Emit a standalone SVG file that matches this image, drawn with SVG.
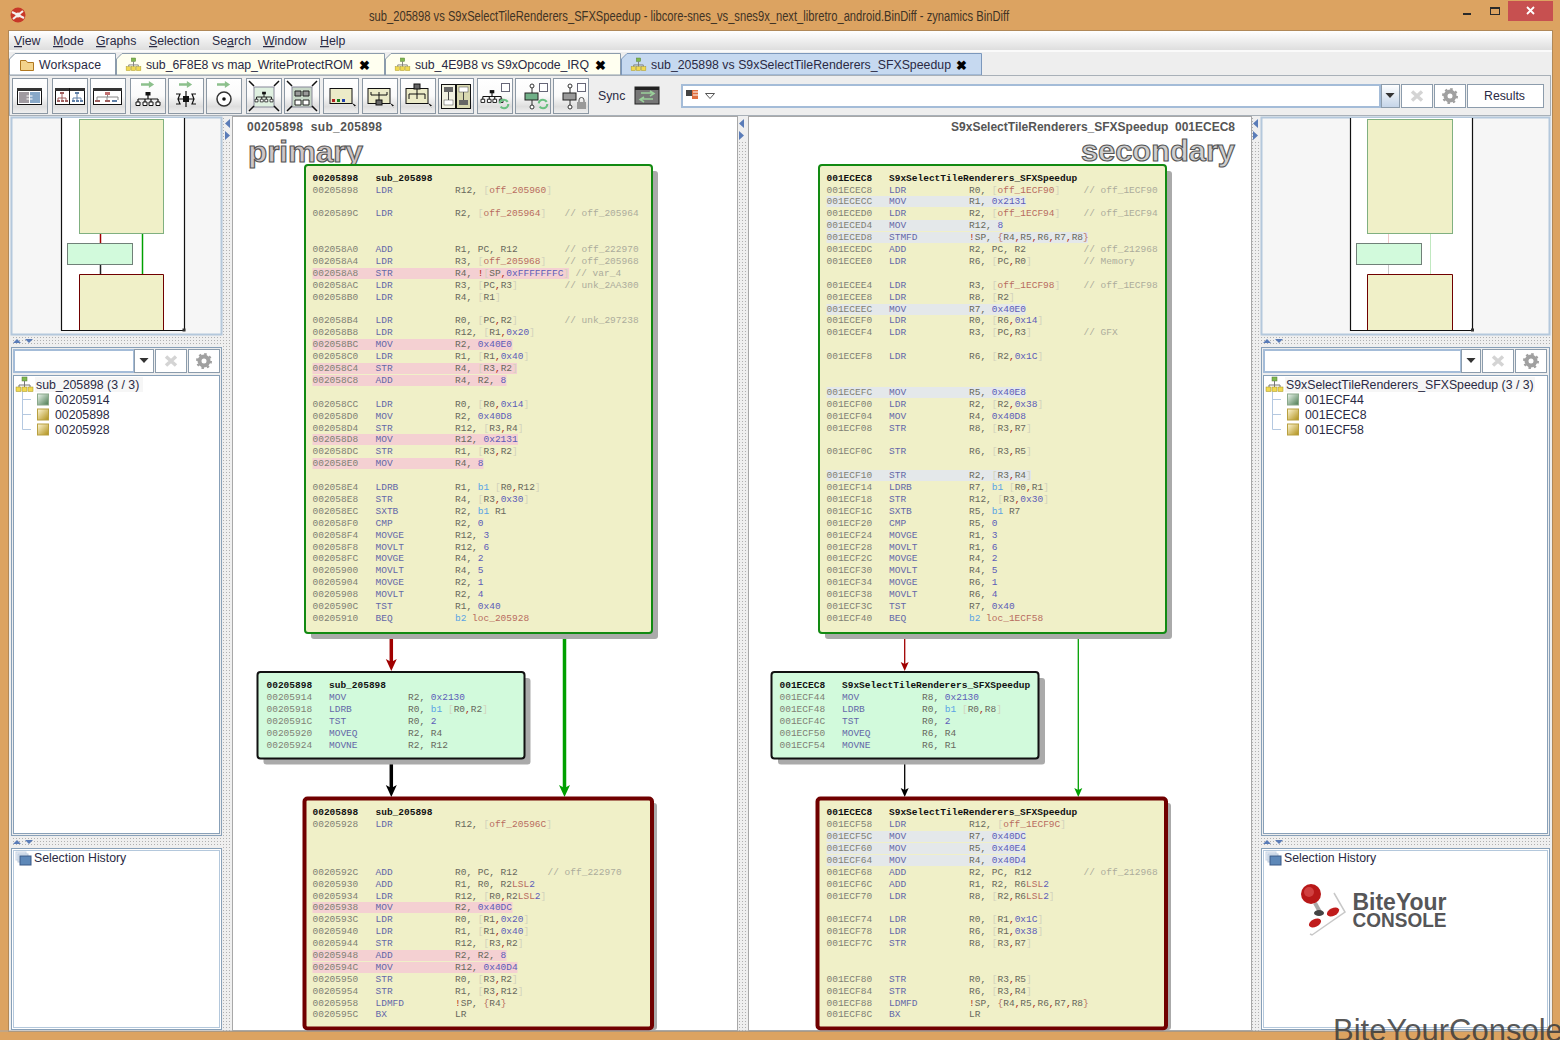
<svg xmlns="http://www.w3.org/2000/svg" width="1560" height="1040" viewBox="0 0 1560 1040">
<style>
text{font-family:"Liberation Sans",Arial,sans-serif;white-space:pre}
.t{font-family:"Liberation Mono","Courier New",monospace;font-size:9.5px;fill:#68685c}
.h{font-weight:bold;fill:#111}
.a{fill:#808074}.m{fill:#6468a8}.b{fill:#d2d2bc}.o{fill:#b86c60}.n{fill:#5c5cb8}.c{fill:#acac9c}.p{fill:#b02818}.s{fill:#5aa4e4}
.ui{font-size:12.3px;fill:#2a2a44}
.hlp{fill:#f4d0d2}.hls{fill:#e4e8ea}
.yb{fill:#f0f0c8;stroke:#128a12;stroke-width:2}
.gb{fill:#d2fadc;stroke:#111;stroke-width:2}
.rb{fill:#f0f0c8;stroke:#700000;stroke-width:4}
.sh{fill:#aaa}
.btn{fill:url(#bg);stroke:#8c98a4;stroke-width:1}
.box{fill:#fff;stroke:#8c9cac;stroke-width:1}
.boxb{fill:#fff;stroke:#a4bcd8;stroke-width:2}
.pan{fill:#fff;stroke:#88a0b8;stroke-width:1}
.k{fill:none;stroke:#111;stroke-width:1.2}
.tri{fill:#5a7cb8}
</style>
<defs>
<linearGradient id="bg" x1="0" y1="0" x2="0" y2="1"><stop offset="0" stop-color="#fff"/><stop offset=".5" stop-color="#fafafa"/><stop offset=".8" stop-color="#dedede"/><stop offset="1" stop-color="#f0f0f0"/></linearGradient>
<linearGradient id="mg" x1="0" y1="0" x2="0" y2="1"><stop offset="0" stop-color="#fff"/><stop offset="1" stop-color="#dedede"/></linearGradient>
<linearGradient id="dd" x1="0" y1="0" x2="0" y2="1"><stop offset="0" stop-color="#fff"/><stop offset="1" stop-color="#c4d4e8"/></linearGradient>
<linearGradient id="yi" x1="0" y1="0" x2="1" y2="1"><stop offset="0" stop-color="#fff8d8"/><stop offset="1" stop-color="#b09018"/></linearGradient>
<linearGradient id="gi" x1="0" y1="0" x2="1" y2="1"><stop offset="0" stop-color="#eef8f0"/><stop offset="1" stop-color="#4a7a50"/></linearGradient>
<pattern id="dots" width="3" height="3" patternUnits="userSpaceOnUse"><rect width="3" height="3" fill="#efefef"/><rect x="1" y="1" width="1" height="1" fill="#b0b0b0"/></pattern>
<marker id="hr" markerUnits="userSpaceOnUse" markerWidth="12" markerHeight="13" refX="6" refY="12.500" orient="0" overflow="visible"><path d="M0.500 0.500L6 3.500L11.500 0.500L6 12.500Z" fill="#a00000"/></marker>
<marker id="hk" markerUnits="userSpaceOnUse" markerWidth="12" markerHeight="13" refX="6" refY="12.500" orient="0" overflow="visible"><path d="M0.500 0.500L6 3.500L11.500 0.500L6 12.500Z" fill="#000"/></marker>
<marker id="hg" markerUnits="userSpaceOnUse" markerWidth="12" markerHeight="13" refX="6" refY="12.500" orient="0" overflow="visible"><path d="M0.500 0.500L6 3.500L11.500 0.500L6 12.500Z" fill="#00a000"/></marker>
<marker id="sr" markerUnits="userSpaceOnUse" markerWidth="9" markerHeight="10" refX="4.500" refY="9.500" orient="0" overflow="visible"><path d="M0.500 0.500L4.500 2.500L8.500 0.500L4.500 9.500Z" fill="#a00000"/></marker>
<marker id="sk" markerUnits="userSpaceOnUse" markerWidth="9" markerHeight="10" refX="4.500" refY="9.500" orient="0" overflow="visible"><path d="M0.500 0.500L4.500 2.500L8.500 0.500L4.500 9.500Z" fill="#000"/></marker>
<marker id="sg" markerUnits="userSpaceOnUse" markerWidth="9" markerHeight="10" refX="4.500" refY="9.500" orient="0" overflow="visible"><path d="M0.500 0.500L4.500 2.500L8.500 0.500L4.500 9.500Z" fill="#00a000"/></marker>
<symbol id="org" viewBox="0 0 24 14" overflow="visible"><path d="M12 3V7M2 7H22M2 7V10M9 7V10M15 7V10M22 7V10" fill="none" stroke="#111" stroke-width="1.2"/><rect x="9.5" y="0" width="5" height="3.5" fill="#111"/><path d="M0 10h4v3.5h-4zM7 10h4v3.5h-4zM13 10h4v3.5h-4zM20 10h4v3.5h-4z" fill="#fff" stroke="#111"/></symbol>
<symbol id="arrow" viewBox="0 0 16 8" overflow="visible"><path d="M0 2.5H9V0L15 4L9 8V5.5H0Z" fill="#8cc08c"/></symbol>
<symbol id="treeicon" viewBox="0 0 17 15" overflow="visible"><rect x="6" y="0" width="5" height="4" fill="#80b850" stroke="#507830" stroke-width=".5"/><path d="M8.500 4V8M3 8H14M3 8V10M8.500 8V10M14 8V10" fill="none" stroke="#777"/><rect x="0" y="10" width="5" height="4.500" fill="#f0d850" stroke="#a09020" stroke-width=".5"/><rect x="6" y="10" width="5" height="4.500" fill="#f0d850" stroke="#a09020" stroke-width=".5"/><rect x="12" y="10" width="5" height="4.500" fill="#f0d850" stroke="#a09020" stroke-width=".5"/></symbol>
<symbol id="xbtn" viewBox="0 0 30 22" overflow="visible"><path d="M10 6.500L20 15.500M20 6.500L10 15.500" stroke="#d4d4d4" stroke-width="3.500"/></symbol>
<symbol id="gear" viewBox="0 0 30 22" overflow="visible"><circle cx="15" cy="11" r="4.500" fill="none" stroke="#a0a0a0" stroke-width="4"/><circle cx="15" cy="11" r="7" fill="none" stroke="#a0a0a0" stroke-width="2" stroke-dasharray="2.500 3"/></symbol>
<symbol id="cursor" viewBox="0 0 6 6" overflow="visible"><path d="M0 0L5 3L3 3.500L4.500 6L0 0Z" fill="#000"/></symbol>
<symbol id="cycle" viewBox="0 0 14 14" overflow="visible"><circle cx="7" cy="7" r="5" fill="none" stroke="#68c080" stroke-width="2.500" stroke-dasharray="12 4"/></symbol>
<symbol id="chk" viewBox="0 0 9 9" overflow="visible"><rect x=".5" y=".5" width="8" height="8" fill="#fff" stroke="#667"/></symbol>
<symbol id="hist" viewBox="0 0 15 13" overflow="visible"><rect x="0" y="0" width="10" height="8" fill="#e8eef6" stroke="#c8d4e4"/><rect x="2" y="2" width="10" height="8" fill="#dde6f0" stroke="#b8c8dc"/><rect x="4" y="4" width="11" height="9" fill="#5e88b8" stroke="#3a5a88"/></symbol>
<symbol id="ddarrow" viewBox="0 0 10 6" overflow="visible"><path d="M0 0H10L5 5.500Z" fill="#333"/></symbol>
</defs>

<g id="window-frame">
<rect width="1560" height="1040" fill="#dca361"/>
<rect x="8.500" y="30.500" width="1544" height="1001" fill="#eeeeee" stroke="#b08858"/>
<text x="369" y="21" font-size="13.800" fill="#3f3325" textLength="640" lengthAdjust="spacingAndGlyphs">sub_205898 vs S9xSelectTileRenderers_SFXSpeedup - libcore-snes_vs_snes9x_next_libretro_android.BinDiff - zynamics BinDiff</text>
<circle cx="18" cy="15" r="7.500" fill="#c83828"/><path d="M12 12L24 18M13 19L23 11" stroke="#f4f0ec" stroke-width="2.200"/><circle cx="18" cy="15" r="2.500" fill="#f4f0ec"/>
<rect x="1463" y="13" width="8" height="2" fill="#2a2a2a"/>
<rect x="1490.500" y="7.500" width="9" height="7" fill="none" stroke="#2a2a2a"/><rect x="1490" y="7" width="10" height="2" fill="#2a2a2a"/>
<rect x="1508" y="1" width="45" height="20" fill="#c75050"/><path d="M1527 7L1534 14M1534 7L1527 14" stroke="#fff" stroke-width="1.800"/>
</g>

<g id="menu-bar">
<rect x="9" y="31" width="1543" height="19" fill="url(#mg)"/>
<rect x="9" y="50" width="1543" height="2" fill="#fafafa"/>
<text class="ui" y="45"><tspan x="14"><tspan text-decoration="underline">V</tspan>iew</tspan><tspan x="53"><tspan text-decoration="underline">M</tspan>ode</tspan><tspan x="96"><tspan text-decoration="underline">G</tspan>raphs</tspan><tspan x="149"><tspan text-decoration="underline">S</tspan>election</tspan><tspan x="212">Se<tspan text-decoration="underline">a</tspan>rch</tspan><tspan x="263"><tspan text-decoration="underline">W</tspan>indow</tspan><tspan x="320"><tspan text-decoration="underline">H</tspan>elp</tspan></text>
</g>

<g id="tab-bar">
<path d="M9.500 75V59L15 53.500H115.500V75Z" fill="#fff" stroke="#8c9cac"/>
<path d="M116.500 75V59L122 53.500H384.500V75Z" fill="#fffff0" stroke="#8c9cac"/>
<path d="M385.500 75V59L391 53.500H620.500V75Z" fill="#fffff0" stroke="#8c9cac"/>
<path d="M621.500 75V59L627 53.500H981.500V75H621.500Z" fill="#c6d9f0" stroke="#7c98bc"/>
<path d="M20.500 60.500H26L27.500 62.500H33.500V70.500H20.500Z" fill="#f4d48c" stroke="#b07820"/>
<use href="#treeicon" x="126" y="58" width="15" height="13"/>
<use href="#treeicon" x="395" y="58" width="15" height="13"/>
<use href="#treeicon" x="631" y="58" width="15" height="13"/>
<text class="ui" x="39" y="69" textLength="62">Workspace</text>
<text class="ui" x="146" y="69" textLength="207">sub_6F8E8 vs map_WriteProtectROM</text>
<text class="ui" x="415" y="69" textLength="174">sub_4E9B8 vs S9xOpcode_IRQ</text>
<text class="ui" x="651" y="69" textLength="300">sub_205898 vs S9xSelectTileRenderers_SFXSpeedup</text>
<text x="359" y="70" font-size="13" font-weight="bold" fill="#000">✖</text>
<text x="595" y="70" font-size="13" font-weight="bold" fill="#000">✖</text>
<text x="956" y="70" font-size="13" font-weight="bold" fill="#000">✖</text>
</g>

<g id="toolbar">
<rect x="9" y="76" width="1543" height="40" fill="#eeeeee"/>
<rect x="9.500" y="75.500" width="1541" height="40" fill="none" stroke="#a8b0b8"/>
<rect class="btn" x="12.500" y="78.500" width="35" height="35"/><rect class="btn" x="52.500" y="78.500" width="35" height="35"/><rect class="btn" x="90.500" y="78.500" width="35" height="35"/><rect class="btn" x="130.500" y="78.500" width="35" height="35"/><rect class="btn" x="168.500" y="78.500" width="35" height="35"/><rect class="btn" x="206.500" y="78.500" width="35" height="35"/><rect class="btn" x="246.500" y="78.500" width="35" height="35"/><rect class="btn" x="284.500" y="78.500" width="35" height="35"/><rect class="btn" x="323.500" y="78.500" width="35" height="35"/><rect class="btn" x="362.500" y="78.500" width="35" height="35"/><rect class="btn" x="400.500" y="78.500" width="35" height="35"/><rect class="btn" x="438.500" y="78.500" width="35" height="35"/><rect class="btn" x="477.500" y="78.500" width="35" height="35"/><rect class="btn" x="515.500" y="78.500" width="35" height="35"/><rect class="btn" x="553.500" y="78.500" width="35" height="35"/>
<rect x="17.500" y="88.500" width="24" height="16" fill="#fff" stroke="#111"/><rect x="17" y="88" width="25" height="3" fill="#333"/><rect x="19" y="92" width="10" height="11" fill="#a09aa0"/><rect x="30" y="92" width="10" height="11" fill="#88a8c8"/><path d="M26.500 96H32.500M26.500 99H32.500" stroke="#fff"/>
<rect x="55.500" y="88.500" width="29" height="16" fill="#fff" stroke="#111"/><rect x="55" y="88" width="30" height="3" fill="#333"/><path d="M69.500 88V104" stroke="#111"/>
<path d="M62 93V98M58 98H66M58 98V100M62 98V100M66 98V100" fill="none" stroke="#a06060"/><path d="M77 93V98M73 98H81M73 98V100M77 98V100M81 98V100" fill="none" stroke="#6080a8"/>
<rect x="60" y="92" width="4" height="2" fill="#a06060"/><rect x="75" y="92" width="4" height="2" fill="#6080a8"/><path d="M57 100h3v2h-3zM61 100h3v2h-3zM65 100h3v2h-3z" fill="#a06060"/><path d="M72 100h3v2h-3zM76 100h3v2h-3zM80 100h3v2h-3z" fill="#6080a8"/>
<rect x="93.500" y="88.500" width="28" height="16" fill="#fff" stroke="#111"/><rect x="93" y="88" width="29" height="3" fill="#333"/><path d="M107.500 93V97M97 97H118M97 97V100M107 97V100M118 97V100" fill="none" stroke="#888"/><rect x="105" y="92" width="5" height="3" fill="#c07070"/><path d="M95 100h5v2h-5zM105 100h5v2h-5z" fill="#a06060"/><path d="M112 100h5v2h-5z" fill="#6080a8"/>
<use href="#arrow" x="141" y="81" width="14" height="7"/><use href="#org" x="136" y="92" width="24" height="14"/>
<use href="#arrow" x="179" y="81" width="14" height="7"/><path d="M186 91V107M178 99H194M176 94H180L178 99L180 104H176M196 94H192L194 99L192 104H196" fill="none" stroke="#111" stroke-width="1.200"/><rect x="183" y="96" width="6" height="6" fill="#111"/>
<use href="#arrow" x="217" y="81" width="14" height="7"/><circle cx="224" cy="99" r="7" fill="#fff" stroke="#333" stroke-width="1.500"/><circle cx="224" cy="99" r="1.800" fill="#111"/>
<rect x="254" y="87" width="20" height="20" fill="#dff0e0" stroke="#889"/><use href="#org" x="255" y="91" width="18" height="12"/><path d="M249 81L254 86M279 81L274 86M249 111L254 106M279 111L274 106" stroke="#111" stroke-width="1.500"/>
<rect x="292" y="87" width="20" height="20" fill="#c8d8c8" stroke="#889"/><path d="M295 91h6v5h-6zM303 91h6v5h-6z" fill="#999" stroke="#222"/><path d="M295 100h6v5h-6zM303 100h6v5h-6z" fill="#fff" stroke="#222"/><path d="M287 81L292 86M317 81L312 86M287 111L292 106M317 111L312 106" stroke="#111" stroke-width="1.500"/>
<rect x="330" y="88.500" width="22" height="15" fill="#ecebc8" stroke="#111"/><rect x="332" y="99" width="3" height="3" fill="#b02020"/><rect x="337" y="99" width="3" height="3" fill="#208020"/><rect x="342" y="99" width="3" height="3" fill="#2040b0"/><use href="#cursor" x="352" y="103" width="5" height="5"/>
<rect x="368" y="88.500" width="22" height="15" fill="#ecebc8" stroke="#111"/><path d="M371 92V95M379 92V95M387 92V95M371 95H387M379 95V100" fill="none" stroke="#111"/><rect x="376" y="100" width="6" height="5" fill="#666" stroke="#111"/><use href="#cursor" x="390" y="103" width="5" height="5"/>
<rect x="406" y="88.500" width="22" height="15" fill="#ecebc8" stroke="#111"/><rect x="414" y="84" width="6" height="5" fill="#666" stroke="#111"/><path d="M417 89V94M409 94H425M409 94V99M417 94V99M425 94V99" fill="none" stroke="#111"/><use href="#cursor" x="428" y="103" width="5" height="5"/>
<rect x="441.500" y="84.500" width="14" height="24" fill="#f0f0e0" stroke="#111"/><rect x="456.500" y="84.500" width="14" height="24" fill="#d8d8b0" stroke="#111"/><rect x="444" y="87" width="9" height="5" fill="#666"/><rect x="459" y="87" width="9" height="5" fill="#fff" stroke="#444" stroke-width=".5"/><rect x="444" y="100" width="9" height="5" fill="#fff" stroke="#444" stroke-width=".5"/><rect x="459" y="100" width="9" height="5" fill="#666"/><path d="M448.500 92V100M463.500 92V100" stroke="#444"/>
<use href="#org" x="481" y="90" width="22" height="13"/><use href="#chk" x="501" y="83" width="9" height="9"/><use href="#cycle" x="498" y="98" width="12" height="12"/>
<path d="M532 85V108" stroke="#333"/><circle cx="532" cy="86" r="2" fill="#fff" stroke="#333"/><circle cx="532" cy="107" r="2" fill="#fff" stroke="#333"/><rect x="525" y="93" width="13" height="7" fill="#70b088" stroke="#222"/><use href="#chk" x="539" y="83" width="9" height="9"/><use href="#cycle" x="537" y="98" width="12" height="12"/>
<path d="M570 85V108" stroke="#333"/><circle cx="570" cy="86" r="2" fill="#fff" stroke="#333"/><circle cx="570" cy="107" r="2" fill="#fff" stroke="#333"/><rect x="563" y="93" width="13" height="7" fill="#999" stroke="#222"/><use href="#chk" x="577" y="83" width="9" height="9"/><rect x="577" y="102" width="9" height="7" fill="#999"/><path d="M579 102V100A2.500 2.500 0 0 1 584 100V102" fill="none" stroke="#555"/>
<text x="598" y="100" class="ui">Sync</text>
<rect x="635" y="87" width="24" height="17" fill="#777" stroke="#222"/><rect x="635" y="87" width="24" height="3" fill="#222"/><path d="M641 93H653M650 91L654 93.500L650 96M653 99H641M644 97L640 99.500L644 102" stroke="#9ad09a" fill="none" stroke-width="1.500"/>
<rect class="boxb" x="682" y="85" width="698" height="22"/>
<rect x="686" y="90" width="6" height="6" fill="#444"/><rect x="692" y="90" width="6" height="9" fill="#e07040"/><path d="M693 92H698M693 95H698" stroke="#fff"/>
<path d="M705.500 93.500H714.500L710 98.500Z" fill="#fff" stroke="#555"/>
<rect x="1381.500" y="84.500" width="18" height="23" fill="url(#dd)" stroke="#8c9cac"/><use href="#ddarrow" x="1385" y="93" width="10" height="5.500"/>
<rect class="box" x="1401.500" y="84.500" width="31" height="23"/><use href="#xbtn" x="1402" y="85" width="30" height="22"/>
<rect class="box" x="1434.500" y="84.500" width="31" height="23"/><use href="#gear" x="1435" y="85" width="30" height="22"/>
<rect class="box" x="1467.500" y="84.500" width="76" height="23"/>
<text class="ui" x="1484" y="100">Results</text>
</g>

<g id="splitters">
<rect x="222" y="116" width="10" height="915" fill="url(#dots)"/>
<rect x="738" y="116" width="10" height="915" fill="url(#dots)"/>
<rect x="1252" y="116" width="9" height="915" fill="url(#dots)"/>
<rect x="11" y="336" width="211" height="10" fill="url(#dots)"/>
<rect x="11" y="837" width="211" height="10" fill="url(#dots)"/>
<rect x="1261" y="336" width="289" height="10" fill="url(#dots)"/>
<rect x="1261" y="837" width="289" height="10" fill="url(#dots)"/>
<rect x="224" y="118" width="7" height="24" fill="#efefef"/><path class="tri" d="M230 119V128L225 123.500ZM225 131V140L230 135.500Z"/>
<rect x="739" y="118" width="7" height="24" fill="#efefef"/><path class="tri" d="M744 119V128L739 123.500ZM739 131V140L744 135.500Z"/>
<rect x="1253" y="118" width="7" height="24" fill="#efefef"/><path class="tri" d="M1258 119V128L1253 123.500ZM1253 131V140L1258 135.500Z"/>
<path class="tri" d="M13 343H21L17 339ZM25 339H33L29 343Z"/><path class="tri" d="M13 844H21L17 840ZM25 840H33L29 844Z"/>
<path class="tri" d="M1263 343H1271L1267 339ZM1275 339H1283L1279 343Z"/><path class="tri" d="M1263 844H1271L1267 840ZM1275 840H1283L1279 844Z"/>
</g>

<g id="left-panels">
<rect x="11.500" y="117.500" width="210" height="217" fill="#f6f6f6" stroke="#b4c8dc" stroke-width="2"/>
<rect x="62" y="118" width="122" height="212" fill="#fff"/>
<path class="k" d="M61.500 118V330.500H184.500V118" stroke-width="1"/>
<rect x="182.500" y="328.500" width="3" height="3" fill="#333"/>
<rect x="79.500" y="119.500" width="84" height="114" fill="#f0f0c8" stroke="#80b080"/>
<rect x="67.500" y="243.500" width="65" height="21" fill="#d2fadc" stroke="#708078"/>
<path d="M79.500 330V274.500H163.500V330" fill="#f0f0c8" stroke="#700000"/>
<path d="M100.500 234V243" stroke="#a00000" stroke-width="1.500"/><path d="M100.500 265V274" stroke="#222" stroke-width="1.500"/><path d="M142.500 234V274" stroke="#00a000" stroke-width="1.500"/>
<rect x="11.500" y="347.500" width="210" height="488" fill="#eee" stroke="#88a0b8"/>
<rect class="boxb" x="14" y="350" width="120" height="22"/>
<rect x="134.500" y="349.500" width="19" height="23" fill="#fff" stroke="#8c9cac"/><use href="#ddarrow" x="139" y="358" width="10" height="5.500"/>
<rect class="box" x="155.500" y="349.500" width="31" height="23"/><use href="#xbtn" x="156" y="350" width="30" height="22"/>
<rect class="box" x="188.500" y="349.500" width="31" height="23"/><use href="#gear" x="189" y="350" width="30" height="22"/>
<rect class="pan" x="13.500" y="375.500" width="206" height="458"/>
<rect x="35" y="377" width="108" height="15" fill="#f6f6f6"/>
<use href="#treeicon" x="16" y="377" width="17" height="15"/>
<path d="M22.500 392V429.500H31M22.500 399.500H31M22.500 414.500H31" fill="none" stroke="#b4c8e0"/>
<rect x="37.500" y="394" width="11" height="11" fill="url(#gi)" stroke="#8aa88a"/><rect x="37.500" y="409" width="11" height="11" fill="url(#yi)" stroke="#b8a040"/><rect x="37.500" y="424" width="11" height="11" fill="url(#yi)" stroke="#b8a040"/>
<text class="ui"><tspan x="36" y="389">sub_205898 (3 / 3)</tspan><tspan x="55" y="404">00205914</tspan><tspan x="55" y="419">00205898</tspan><tspan x="55" y="434">00205928</tspan></text>
<rect x="11.500" y="848.500" width="210" height="181" fill="#fff" stroke="#88a0b8"/><rect x="13.500" y="850.500" width="206" height="177" fill="none" stroke="#b4c8dc"/>
<use href="#hist" x="16" y="852" width="15" height="13"/>
<text class="ui" x="34" y="862">Selection History</text>
</g>

<g id="right-panels">
<rect x="1261.500" y="117.500" width="288" height="217" fill="#f6f6f6" stroke="#b4c8dc" stroke-width="2"/>
<rect x="1351" y="118" width="122" height="212" fill="#fff"/>
<path class="k" d="M1350.500 118V330.500H1472.500V118" stroke-width="1"/>
<rect x="1471" y="328.500" width="3" height="3" fill="#333"/>
<rect x="1367.500" y="119.500" width="85" height="114" fill="#f0f0c8" stroke="#80b080"/>
<rect x="1356.500" y="243.500" width="65" height="21" fill="#d2fadc" stroke="#708078"/>
<path d="M1367.500 330V274.500H1452.500V330" fill="#f0f0c8" stroke="#700000"/>
<path d="M1388.500 234V243" stroke="#f0c8c8"/><path d="M1388.500 265V274" stroke="#c8c8c8"/><path d="M1430.500 234V274" stroke="#c0e8c0"/>
<rect x="1261.500" y="347.500" width="288" height="488" fill="#eee" stroke="#88a0b8"/>
<rect class="boxb" x="1264" y="350" width="197" height="22"/>
<rect x="1461.500" y="349.500" width="19" height="23" fill="#fff" stroke="#8c9cac"/><use href="#ddarrow" x="1466" y="358" width="10" height="5.500"/>
<rect class="box" x="1482.500" y="349.500" width="31" height="23"/><use href="#xbtn" x="1483" y="350" width="30" height="22"/>
<rect class="box" x="1515.500" y="349.500" width="31" height="23"/><use href="#gear" x="1516" y="350" width="30" height="22"/>
<rect class="pan" x="1263.500" y="375.500" width="284" height="458"/>
<rect x="1285" y="377" width="250" height="15" fill="#f6f6f6"/>
<use href="#treeicon" x="1266" y="377" width="17" height="15"/>
<path d="M1272.500 392V429.500H1281M1272.500 399.500H1281M1272.500 414.500H1281" fill="none" stroke="#b4c8e0"/>
<rect x="1287.500" y="394" width="11" height="11" fill="url(#gi)" stroke="#8aa88a"/><rect x="1287.500" y="409" width="11" height="11" fill="url(#yi)" stroke="#b8a040"/><rect x="1287.500" y="424" width="11" height="11" fill="url(#yi)" stroke="#b8a040"/>
<text class="ui"><tspan x="1286" y="389">S9xSelectTileRenderers_SFXSpeedup (3 / 3)</tspan><tspan x="1305" y="404">001ECF44</tspan><tspan x="1305" y="419">001ECEC8</tspan><tspan x="1305" y="434">001ECF58</tspan></text>
<rect x="1261.500" y="848.500" width="288" height="181" fill="#fff" stroke="#88a0b8"/><rect x="1263.500" y="850.500" width="284" height="177" fill="none" stroke="#b4c8dc"/>
<use href="#hist" x="1266" y="852" width="15" height="13"/>
<text class="ui" x="1284" y="862">Selection History</text>
<g id="logo">
<path d="M1334 893L1345 912L1312 935L1310 934" fill="none" stroke="#c8c8c8" stroke-width="1.500"/>
<path d="M1315 903L1320 912" stroke="#aaa" stroke-width="4"/>
<circle cx="1311" cy="894" r="10" fill="#b81818"/><circle cx="1309" cy="892" r="5" fill="#d04040"/>
<ellipse cx="1319" cy="913" rx="5" ry="3" fill="#444"/>
<ellipse cx="1333" cy="912" rx="6.500" ry="3.800" fill="#c01c1c" transform="rotate(-25 1333 912)"/>
<ellipse cx="1315" cy="923" rx="6.500" ry="3.800" fill="#c01c1c" transform="rotate(-25 1315 923)"/>
<text x="1352.500" y="910" font-size="24" font-weight="bold" fill="#565658" textLength="94" lengthAdjust="spacingAndGlyphs">BiteYour</text>
<text x="1352.500" y="927" font-size="19.500" font-weight="bold" fill="#565658" textLength="94" lengthAdjust="spacingAndGlyphs">CONSOLE</text>
</g>
</g>

<g id="graph-panels">
<rect x="232.500" y="116.500" width="505" height="914" fill="#fff" stroke="#a8a8a8"/>
<rect x="748.500" y="116.500" width="503" height="914" fill="#fff" stroke="#a8a8a8"/>
<text x="247" y="131" font-size="12" font-weight="bold" fill="#555" textLength="135">00205898  sub_205898</text>
<text x="1235" y="131" font-size="12" font-weight="bold" fill="#555" text-anchor="end">S9xSelectTileRenderers_SFXSpeedup  001ECEC8</text>
<text x="248" y="162" font-size="30" font-weight="bold" fill="#cfc6c6" stroke="#555" stroke-width="1.100" textLength="115" lengthAdjust="spacingAndGlyphs">primary</text>
<text x="1081" y="161" font-size="30" font-weight="bold" fill="#d0d0d0" stroke="#555" stroke-width="1.100" textLength="154" lengthAdjust="spacingAndGlyphs">secondary</text>
</g>

<g id="connectors" fill="none">
<path d="M391.300 633V664" stroke="#a00000" stroke-width="3.500"/><path d="M391.300 660V671" stroke="none" marker-end="url(#hr)"/>
<path d="M391.300 758V790" stroke="#000" stroke-width="3.500"/><path d="M391.300 785V797" stroke="none" marker-end="url(#hk)"/>
<path d="M564.500 633V790" stroke="#00a000" stroke-width="3.500"/><path d="M564.500 785V797" stroke="none" marker-end="url(#hg)"/>
<path d="M904.700 633V665" stroke="#a00000" stroke-width="1.300"/><path d="M904.700 660V671" stroke="none" marker-end="url(#sr)"/>
<path d="M904.700 758V792" stroke="#000" stroke-width="1.300"/><path d="M904.700 785V797" stroke="none" marker-end="url(#sk)"/>
<path d="M1078.300 633V792" stroke="#00a000" stroke-width="1.300"/><path d="M1078.300 785V797" stroke="none" marker-end="url(#sg)"/>
</g>

<g id="primary-block-00205898">
<rect class="sh" x="311" y="171" width="347" height="468" rx="3"/>
<rect class="yb" x="305" y="165" width="347" height="468" rx="3"/>
<rect class="hlp" x="312.500" y="268" width="256.500" height="11"/><rect class="hlp" x="312.500" y="339" width="200" height="11"/><rect class="hlp" x="312.500" y="363" width="204.500" height="11"/><rect class="hlp" x="312.500" y="375" width="194" height="11"/><rect class="hlp" x="312.500" y="434" width="205.500" height="11"/><rect class="hlp" x="312.500" y="458" width="171" height="11"/>
<text class="t h" y="181"><tspan x="312.500">00205898</tspan><tspan x="375.500">sub_205898</tspan></text>
<text class="t" y="193"><tspan class="a" x="312.500">00205898</tspan><tspan class="m" x="375.500">LDR</tspan><tspan x="455">R12, <tspan class="b">[</tspan><tspan class="o">off_205960</tspan><tspan class="b">]</tspan></tspan></text>
<text class="t" y="216"><tspan class="a" x="312.500">0020589C</tspan><tspan class="m" x="375.500">LDR</tspan><tspan x="455">R2, <tspan class="b">[</tspan><tspan class="o">off_205964</tspan><tspan class="b">]</tspan></tspan><tspan class="c" x="564.500">// off_205964</tspan></text>
<text class="t" y="252"><tspan class="a" x="312.500">002058A0</tspan><tspan class="m" x="375.500">ADD</tspan><tspan x="455">R1, PC, R12</tspan><tspan class="c" x="564.500">// off_222970</tspan></text>
<text class="t" y="264"><tspan class="a" x="312.500">002058A4</tspan><tspan class="m" x="375.500">LDR</tspan><tspan x="455">R3, <tspan class="b">[</tspan><tspan class="o">off_205968</tspan><tspan class="b">]</tspan></tspan><tspan class="c" x="564.500">// off_205968</tspan></text>
<text class="t" y="276"><tspan class="a" x="312.500">002058A8</tspan><tspan class="m" x="375.500">STR</tspan><tspan x="455">R4, <tspan class="p">!</tspan><tspan class="b">[</tspan>SP<tspan class="p">,</tspan><tspan class="n">0xFFFFFFFC</tspan><tspan class="b">]</tspan></tspan><tspan class="c" x="575.500">// var_4</tspan></text>
<text class="t" y="288"><tspan class="a" x="312.500">002058AC</tspan><tspan class="m" x="375.500">LDR</tspan><tspan x="455">R3, <tspan class="b">[</tspan>PC<tspan class="p">,</tspan>R3<tspan class="b">]</tspan></tspan><tspan class="c" x="564.500">// unk_2AA300</tspan></text>
<text class="t" y="300"><tspan class="a" x="312.500">002058B0</tspan><tspan class="m" x="375.500">LDR</tspan><tspan x="455">R4, <tspan class="b">[</tspan>R1<tspan class="b">]</tspan></tspan></text>
<text class="t" y="323"><tspan class="a" x="312.500">002058B4</tspan><tspan class="m" x="375.500">LDR</tspan><tspan x="455">R0, <tspan class="b">[</tspan>PC<tspan class="p">,</tspan>R2<tspan class="b">]</tspan></tspan><tspan class="c" x="564.500">// unk_297238</tspan></text>
<text class="t" y="335"><tspan class="a" x="312.500">002058B8</tspan><tspan class="m" x="375.500">LDR</tspan><tspan x="455">R12, <tspan class="b">[</tspan>R1<tspan class="p">,</tspan><tspan class="n">0x20</tspan><tspan class="b">]</tspan></tspan></text>
<text class="t" y="347"><tspan class="a" x="312.500">002058BC</tspan><tspan class="m" x="375.500">MOV</tspan><tspan x="455">R2, <tspan class="n">0x40E0</tspan></tspan></text>
<text class="t" y="359"><tspan class="a" x="312.500">002058C0</tspan><tspan class="m" x="375.500">LDR</tspan><tspan x="455">R1, <tspan class="b">[</tspan>R1<tspan class="p">,</tspan><tspan class="n">0x40</tspan><tspan class="b">]</tspan></tspan></text>
<text class="t" y="371"><tspan class="a" x="312.500">002058C4</tspan><tspan class="m" x="375.500">STR</tspan><tspan x="455">R4, <tspan class="b">[</tspan>R3<tspan class="p">,</tspan>R2<tspan class="b">]</tspan></tspan></text>
<text class="t" y="383"><tspan class="a" x="312.500">002058C8</tspan><tspan class="m" x="375.500">ADD</tspan><tspan x="455">R4, R2, <tspan class="n">8</tspan></tspan></text>
<text class="t" y="407"><tspan class="a" x="312.500">002058CC</tspan><tspan class="m" x="375.500">LDR</tspan><tspan x="455">R0, <tspan class="b">[</tspan>R0<tspan class="p">,</tspan><tspan class="n">0x14</tspan><tspan class="b">]</tspan></tspan></text>
<text class="t" y="419"><tspan class="a" x="312.500">002058D0</tspan><tspan class="m" x="375.500">MOV</tspan><tspan x="455">R2, <tspan class="n">0x40D8</tspan></tspan></text>
<text class="t" y="431"><tspan class="a" x="312.500">002058D4</tspan><tspan class="m" x="375.500">STR</tspan><tspan x="455">R12, <tspan class="b">[</tspan>R3<tspan class="p">,</tspan>R4<tspan class="b">]</tspan></tspan></text>
<text class="t" y="442"><tspan class="a" x="312.500">002058D8</tspan><tspan class="m" x="375.500">MOV</tspan><tspan x="455">R12, <tspan class="n">0x2131</tspan></tspan></text>
<text class="t" y="454"><tspan class="a" x="312.500">002058DC</tspan><tspan class="m" x="375.500">STR</tspan><tspan x="455">R1, <tspan class="b">[</tspan>R3<tspan class="p">,</tspan>R2<tspan class="b">]</tspan></tspan></text>
<text class="t" y="466"><tspan class="a" x="312.500">002058E0</tspan><tspan class="m" x="375.500">MOV</tspan><tspan x="455">R4, <tspan class="n">8</tspan></tspan></text>
<text class="t" y="490"><tspan class="a" x="312.500">002058E4</tspan><tspan class="m" x="375.500">LDRB</tspan><tspan x="455">R1, <tspan class="s">b1</tspan> <tspan class="b">[</tspan>R0<tspan class="p">,</tspan>R12<tspan class="b">]</tspan></tspan></text>
<text class="t" y="502"><tspan class="a" x="312.500">002058E8</tspan><tspan class="m" x="375.500">STR</tspan><tspan x="455">R4, <tspan class="b">[</tspan>R3<tspan class="p">,</tspan><tspan class="n">0x30</tspan><tspan class="b">]</tspan></tspan></text>
<text class="t" y="514"><tspan class="a" x="312.500">002058EC</tspan><tspan class="m" x="375.500">SXTB</tspan><tspan x="455">R2, <tspan class="s">b1</tspan> R1</tspan></text>
<text class="t" y="526"><tspan class="a" x="312.500">002058F0</tspan><tspan class="m" x="375.500">CMP</tspan><tspan x="455">R2, <tspan class="n">0</tspan></tspan></text>
<text class="t" y="538"><tspan class="a" x="312.500">002058F4</tspan><tspan class="m" x="375.500">MOVGE</tspan><tspan x="455">R12, <tspan class="n">3</tspan></tspan></text>
<text class="t" y="550"><tspan class="a" x="312.500">002058F8</tspan><tspan class="m" x="375.500">MOVLT</tspan><tspan x="455">R12, <tspan class="n">6</tspan></tspan></text>
<text class="t" y="561"><tspan class="a" x="312.500">002058FC</tspan><tspan class="m" x="375.500">MOVGE</tspan><tspan x="455">R4, <tspan class="n">2</tspan></tspan></text>
<text class="t" y="573"><tspan class="a" x="312.500">00205900</tspan><tspan class="m" x="375.500">MOVLT</tspan><tspan x="455">R4, <tspan class="n">5</tspan></tspan></text>
<text class="t" y="585"><tspan class="a" x="312.500">00205904</tspan><tspan class="m" x="375.500">MOVGE</tspan><tspan x="455">R2, <tspan class="n">1</tspan></tspan></text>
<text class="t" y="597"><tspan class="a" x="312.500">00205908</tspan><tspan class="m" x="375.500">MOVLT</tspan><tspan x="455">R2, <tspan class="n">4</tspan></tspan></text>
<text class="t" y="609"><tspan class="a" x="312.500">0020590C</tspan><tspan class="m" x="375.500">TST</tspan><tspan x="455">R1, <tspan class="n">0x40</tspan></tspan></text>
<text class="t" y="621"><tspan class="a" x="312.500">00205910</tspan><tspan class="m" x="375.500">BEQ</tspan><tspan x="455"><tspan class="s">b2</tspan> <tspan class="o">loc_205928</tspan></tspan></text>
</g>

<g id="primary-block-00205914">
<rect class="sh" x="263.500" y="678" width="267" height="86.500" rx="3"/>
<rect class="gb" x="257.500" y="672" width="267" height="86.500" rx="3"/>
<text class="t h" y="688"><tspan x="266.500">00205898</tspan><tspan x="329">sub_205898</tspan></text>
<text class="t" y="700"><tspan class="a" x="266.500">00205914</tspan><tspan class="m" x="329">MOV</tspan><tspan x="408">R2, <tspan class="n">0x2130</tspan></tspan></text>
<text class="t" y="712"><tspan class="a" x="266.500">00205918</tspan><tspan class="m" x="329">LDRB</tspan><tspan x="408">R0, <tspan class="s">b1</tspan> <tspan class="b">[</tspan>R0<tspan class="p">,</tspan>R2<tspan class="b">]</tspan></tspan></text>
<text class="t" y="724"><tspan class="a" x="266.500">0020591C</tspan><tspan class="m" x="329">TST</tspan><tspan x="408">R0, <tspan class="n">2</tspan></tspan></text>
<text class="t" y="736"><tspan class="a" x="266.500">00205920</tspan><tspan class="m" x="329">MOVEQ</tspan><tspan x="408">R2, R4</tspan></text>
<text class="t" y="748"><tspan class="a" x="266.500">00205924</tspan><tspan class="m" x="329">MOVNE</tspan><tspan x="408">R2, R12</tspan></text>
</g>

<g id="primary-block-00205928">
<rect class="sh" x="309" y="803" width="348" height="227" rx="3"/>
<rect class="rb" x="304.500" y="798.500" width="347.500" height="230" rx="3"/>
<rect class="hlp" x="312.500" y="902" width="200" height="11"/><rect class="hlp" x="312.500" y="950" width="194" height="11"/><rect class="hlp" x="312.500" y="962" width="205" height="11"/>
<text class="t h" y="815"><tspan x="312.500">00205898</tspan><tspan x="375.500">sub_205898</tspan></text>
<text class="t" y="827"><tspan class="a" x="312.500">00205928</tspan><tspan class="m" x="375.500">LDR</tspan><tspan x="455">R12, <tspan class="b">[</tspan><tspan class="o">off_20596C</tspan><tspan class="b">]</tspan></tspan></text>
<text class="t" y="875"><tspan class="a" x="312.500">0020592C</tspan><tspan class="m" x="375.500">ADD</tspan><tspan x="455">R0, PC, R12</tspan><tspan class="c" x="547.500">// off_222970</tspan></text>
<text class="t" y="887"><tspan class="a" x="312.500">00205930</tspan><tspan class="m" x="375.500">ADD</tspan><tspan x="455">R1, R0, R2<tspan class="o">LSL</tspan><tspan class="n">2</tspan></tspan></text>
<text class="t" y="899"><tspan class="a" x="312.500">00205934</tspan><tspan class="m" x="375.500">LDR</tspan><tspan x="455">R12, <tspan class="b">[</tspan>R0<tspan class="p">,</tspan>R2<tspan class="o">LSL</tspan><tspan class="n">2</tspan><tspan class="b">]</tspan></tspan></text>
<text class="t" y="910"><tspan class="a" x="312.500">00205938</tspan><tspan class="m" x="375.500">MOV</tspan><tspan x="455">R2, <tspan class="n">0x40DC</tspan></tspan></text>
<text class="t" y="922"><tspan class="a" x="312.500">0020593C</tspan><tspan class="m" x="375.500">LDR</tspan><tspan x="455">R0, <tspan class="b">[</tspan>R1<tspan class="p">,</tspan><tspan class="n">0x20</tspan><tspan class="b">]</tspan></tspan></text>
<text class="t" y="934"><tspan class="a" x="312.500">00205940</tspan><tspan class="m" x="375.500">LDR</tspan><tspan x="455">R1, <tspan class="b">[</tspan>R1<tspan class="p">,</tspan><tspan class="n">0x40</tspan><tspan class="b">]</tspan></tspan></text>
<text class="t" y="946"><tspan class="a" x="312.500">00205944</tspan><tspan class="m" x="375.500">STR</tspan><tspan x="455">R12, <tspan class="b">[</tspan>R3<tspan class="p">,</tspan>R2<tspan class="b">]</tspan></tspan></text>
<text class="t" y="958"><tspan class="a" x="312.500">00205948</tspan><tspan class="m" x="375.500">ADD</tspan><tspan x="455">R2, R2, <tspan class="n">8</tspan></tspan></text>
<text class="t" y="970"><tspan class="a" x="312.500">0020594C</tspan><tspan class="m" x="375.500">MOV</tspan><tspan x="455">R12, <tspan class="n">0x40D4</tspan></tspan></text>
<text class="t" y="982"><tspan class="a" x="312.500">00205950</tspan><tspan class="m" x="375.500">STR</tspan><tspan x="455">R0, <tspan class="b">[</tspan>R3<tspan class="p">,</tspan>R2<tspan class="b">]</tspan></tspan></text>
<text class="t" y="994"><tspan class="a" x="312.500">00205954</tspan><tspan class="m" x="375.500">STR</tspan><tspan x="455">R1, <tspan class="b">[</tspan>R3<tspan class="p">,</tspan>R12<tspan class="b">]</tspan></tspan></text>
<text class="t" y="1006"><tspan class="a" x="312.500">00205958</tspan><tspan class="m" x="375.500">LDMFD</tspan><tspan x="455"><tspan class="p">!</tspan>SP, <tspan class="o">{</tspan>R4<tspan class="o">}</tspan></tspan></text>
<text class="t" y="1017"><tspan class="a" x="312.500">0020595C</tspan><tspan class="m" x="375.500">BX</tspan><tspan x="455">LR</tspan></text>
</g>

<g id="secondary-block-001ECEC8">
<rect class="sh" x="825" y="171" width="347" height="468" rx="3"/>
<rect class="yb" x="819" y="165" width="347" height="468" rx="3"/>
<rect class="hls" x="826.500" y="196" width="199" height="11"/><rect class="hls" x="826.500" y="220" width="175.500" height="11"/><rect class="hls" x="826.500" y="232" width="261.500" height="11"/><rect class="hls" x="826.500" y="304" width="199" height="11"/><rect class="hls" x="826.500" y="387" width="199" height="11"/><rect class="hls" x="826.500" y="470" width="204.500" height="11"/>
<text class="t h" y="181"><tspan x="826.500">001ECEC8</tspan><tspan x="889">S9xSelectTileRenderers_SFXSpeedup</tspan></text>
<text class="t" y="193"><tspan class="a" x="826.500">001ECEC8</tspan><tspan class="m" x="889">LDR</tspan><tspan x="969">R0, <tspan class="b">[</tspan><tspan class="o">off_1ECF90</tspan><tspan class="b">]</tspan></tspan><tspan class="c" x="1083.500">// off_1ECF90</tspan></text>
<text class="t" y="204"><tspan class="a" x="826.500">001ECECC</tspan><tspan class="m" x="889">MOV</tspan><tspan x="969">R1, <tspan class="n">0x2131</tspan></tspan></text>
<text class="t" y="216"><tspan class="a" x="826.500">001ECED0</tspan><tspan class="m" x="889">LDR</tspan><tspan x="969">R2, <tspan class="b">[</tspan><tspan class="o">off_1ECF94</tspan><tspan class="b">]</tspan></tspan><tspan class="c" x="1083.500">// off_1ECF94</tspan></text>
<text class="t" y="228"><tspan class="a" x="826.500">001ECED4</tspan><tspan class="m" x="889">MOV</tspan><tspan x="969">R12, <tspan class="n">8</tspan></tspan></text>
<text class="t" y="240"><tspan class="a" x="826.500">001ECED8</tspan><tspan class="m" x="889">STMFD</tspan><tspan x="969"><tspan class="p">!</tspan>SP, <tspan class="o">{</tspan>R4<tspan class="p">,</tspan>R5<tspan class="p">,</tspan>R6<tspan class="p">,</tspan>R7<tspan class="p">,</tspan>R8<tspan class="o">}</tspan></tspan></text>
<text class="t" y="252"><tspan class="a" x="826.500">001ECEDC</tspan><tspan class="m" x="889">ADD</tspan><tspan x="969">R2, PC, R2</tspan><tspan class="c" x="1083.500">// off_212968</tspan></text>
<text class="t" y="264"><tspan class="a" x="826.500">001ECEE0</tspan><tspan class="m" x="889">LDR</tspan><tspan x="969">R6, <tspan class="b">[</tspan>PC<tspan class="p">,</tspan>R0<tspan class="b">]</tspan></tspan><tspan class="c" x="1083.500">// Memory</tspan></text>
<text class="t" y="288"><tspan class="a" x="826.500">001ECEE4</tspan><tspan class="m" x="889">LDR</tspan><tspan x="969">R3, <tspan class="b">[</tspan><tspan class="o">off_1ECF98</tspan><tspan class="b">]</tspan></tspan><tspan class="c" x="1083.500">// off_1ECF98</tspan></text>
<text class="t" y="300"><tspan class="a" x="826.500">001ECEE8</tspan><tspan class="m" x="889">LDR</tspan><tspan x="969">R8, <tspan class="b">[</tspan>R2<tspan class="b">]</tspan></tspan></text>
<text class="t" y="312"><tspan class="a" x="826.500">001ECEEC</tspan><tspan class="m" x="889">MOV</tspan><tspan x="969">R7, <tspan class="n">0x40E0</tspan></tspan></text>
<text class="t" y="323"><tspan class="a" x="826.500">001ECEF0</tspan><tspan class="m" x="889">LDR</tspan><tspan x="969">R0, <tspan class="b">[</tspan>R6<tspan class="p">,</tspan><tspan class="n">0x14</tspan><tspan class="b">]</tspan></tspan></text>
<text class="t" y="335"><tspan class="a" x="826.500">001ECEF4</tspan><tspan class="m" x="889">LDR</tspan><tspan x="969">R3, <tspan class="b">[</tspan>PC<tspan class="p">,</tspan>R3<tspan class="b">]</tspan></tspan><tspan class="c" x="1083.500">// GFX</tspan></text>
<text class="t" y="359"><tspan class="a" x="826.500">001ECEF8</tspan><tspan class="m" x="889">LDR</tspan><tspan x="969">R6, <tspan class="b">[</tspan>R2<tspan class="p">,</tspan><tspan class="n">0x1C</tspan><tspan class="b">]</tspan></tspan></text>
<text class="t" y="395"><tspan class="a" x="826.500">001ECEFC</tspan><tspan class="m" x="889">MOV</tspan><tspan x="969">R5, <tspan class="n">0x40E8</tspan></tspan></text>
<text class="t" y="407"><tspan class="a" x="826.500">001ECF00</tspan><tspan class="m" x="889">LDR</tspan><tspan x="969">R2, <tspan class="b">[</tspan>R2<tspan class="p">,</tspan><tspan class="n">0x38</tspan><tspan class="b">]</tspan></tspan></text>
<text class="t" y="419"><tspan class="a" x="826.500">001ECF04</tspan><tspan class="m" x="889">MOV</tspan><tspan x="969">R4, <tspan class="n">0x40D8</tspan></tspan></text>
<text class="t" y="431"><tspan class="a" x="826.500">001ECF08</tspan><tspan class="m" x="889">STR</tspan><tspan x="969">R8, <tspan class="b">[</tspan>R3<tspan class="p">,</tspan>R7<tspan class="b">]</tspan></tspan></text>
<text class="t" y="454"><tspan class="a" x="826.500">001ECF0C</tspan><tspan class="m" x="889">STR</tspan><tspan x="969">R6, <tspan class="b">[</tspan>R3<tspan class="p">,</tspan>R5<tspan class="b">]</tspan></tspan></text>
<text class="t" y="478"><tspan class="a" x="826.500">001ECF10</tspan><tspan class="m" x="889">STR</tspan><tspan x="969">R2, <tspan class="b">[</tspan>R3<tspan class="p">,</tspan>R4<tspan class="b">]</tspan></tspan></text>
<text class="t" y="490"><tspan class="a" x="826.500">001ECF14</tspan><tspan class="m" x="889">LDRB</tspan><tspan x="969">R7, <tspan class="s">b1</tspan> <tspan class="b">[</tspan>R0<tspan class="p">,</tspan>R1<tspan class="b">]</tspan></tspan></text>
<text class="t" y="502"><tspan class="a" x="826.500">001ECF18</tspan><tspan class="m" x="889">STR</tspan><tspan x="969">R12, <tspan class="b">[</tspan>R3<tspan class="p">,</tspan><tspan class="n">0x30</tspan><tspan class="b">]</tspan></tspan></text>
<text class="t" y="514"><tspan class="a" x="826.500">001ECF1C</tspan><tspan class="m" x="889">SXTB</tspan><tspan x="969">R5, <tspan class="s">b1</tspan> R7</tspan></text>
<text class="t" y="526"><tspan class="a" x="826.500">001ECF20</tspan><tspan class="m" x="889">CMP</tspan><tspan x="969">R5, <tspan class="n">0</tspan></tspan></text>
<text class="t" y="538"><tspan class="a" x="826.500">001ECF24</tspan><tspan class="m" x="889">MOVGE</tspan><tspan x="969">R1, <tspan class="n">3</tspan></tspan></text>
<text class="t" y="550"><tspan class="a" x="826.500">001ECF28</tspan><tspan class="m" x="889">MOVLT</tspan><tspan x="969">R1, <tspan class="n">6</tspan></tspan></text>
<text class="t" y="561"><tspan class="a" x="826.500">001ECF2C</tspan><tspan class="m" x="889">MOVGE</tspan><tspan x="969">R4, <tspan class="n">2</tspan></tspan></text>
<text class="t" y="573"><tspan class="a" x="826.500">001ECF30</tspan><tspan class="m" x="889">MOVLT</tspan><tspan x="969">R4, <tspan class="n">5</tspan></tspan></text>
<text class="t" y="585"><tspan class="a" x="826.500">001ECF34</tspan><tspan class="m" x="889">MOVGE</tspan><tspan x="969">R6, <tspan class="n">1</tspan></tspan></text>
<text class="t" y="597"><tspan class="a" x="826.500">001ECF38</tspan><tspan class="m" x="889">MOVLT</tspan><tspan x="969">R6, <tspan class="n">4</tspan></tspan></text>
<text class="t" y="609"><tspan class="a" x="826.500">001ECF3C</tspan><tspan class="m" x="889">TST</tspan><tspan x="969">R7, <tspan class="n">0x40</tspan></tspan></text>
<text class="t" y="621"><tspan class="a" x="826.500">001ECF40</tspan><tspan class="m" x="889">BEQ</tspan><tspan x="969"><tspan class="s">b2</tspan> <tspan class="o">loc_1ECF58</tspan></tspan></text>
</g>

<g id="secondary-block-001ECF44">
<rect class="sh" x="778" y="678" width="267" height="86.500" rx="3"/>
<rect class="gb" x="771.500" y="672" width="267" height="86.500" rx="3"/>
<text class="t h" y="688"><tspan x="779.500">001ECEC8</tspan><tspan x="842">S9xSelectTileRenderers_SFXSpeedup</tspan></text>
<text class="t" y="700"><tspan class="a" x="779.500">001ECF44</tspan><tspan class="m" x="842">MOV</tspan><tspan x="922">R8, <tspan class="n">0x2130</tspan></tspan></text>
<text class="t" y="712"><tspan class="a" x="779.500">001ECF48</tspan><tspan class="m" x="842">LDRB</tspan><tspan x="922">R0, <tspan class="s">b1</tspan> <tspan class="b">[</tspan>R0<tspan class="p">,</tspan>R8<tspan class="b">]</tspan></tspan></text>
<text class="t" y="724"><tspan class="a" x="779.500">001ECF4C</tspan><tspan class="m" x="842">TST</tspan><tspan x="922">R0, <tspan class="n">2</tspan></tspan></text>
<text class="t" y="736"><tspan class="a" x="779.500">001ECF50</tspan><tspan class="m" x="842">MOVEQ</tspan><tspan x="922">R6, R4</tspan></text>
<text class="t" y="748"><tspan class="a" x="779.500">001ECF54</tspan><tspan class="m" x="842">MOVNE</tspan><tspan x="922">R6, R1</tspan></text>
</g>

<g id="secondary-block-001ECF58">
<rect class="sh" x="822" y="803" width="349" height="227" rx="3"/>
<rect class="rb" x="817.500" y="798.500" width="348.500" height="230" rx="3"/>
<rect class="hls" x="826.500" y="831" width="199" height="11"/><rect class="hls" x="826.500" y="843" width="199" height="11"/><rect class="hls" x="826.500" y="855" width="199" height="11"/>
<text class="t h" y="815"><tspan x="826.500">001ECEC8</tspan><tspan x="889">S9xSelectTileRenderers_SFXSpeedup</tspan></text>
<text class="t" y="827"><tspan class="a" x="826.500">001ECF58</tspan><tspan class="m" x="889">LDR</tspan><tspan x="969">R12, <tspan class="b">[</tspan><tspan class="o">off_1ECF9C</tspan><tspan class="b">]</tspan></tspan></text>
<text class="t" y="839"><tspan class="a" x="826.500">001ECF5C</tspan><tspan class="m" x="889">MOV</tspan><tspan x="969">R7, <tspan class="n">0x40DC</tspan></tspan></text>
<text class="t" y="851"><tspan class="a" x="826.500">001ECF60</tspan><tspan class="m" x="889">MOV</tspan><tspan x="969">R5, <tspan class="n">0x40E4</tspan></tspan></text>
<text class="t" y="863"><tspan class="a" x="826.500">001ECF64</tspan><tspan class="m" x="889">MOV</tspan><tspan x="969">R4, <tspan class="n">0x40D4</tspan></tspan></text>
<text class="t" y="875"><tspan class="a" x="826.500">001ECF68</tspan><tspan class="m" x="889">ADD</tspan><tspan x="969">R2, PC, R12</tspan><tspan class="c" x="1083.500">// off_212968</tspan></text>
<text class="t" y="887"><tspan class="a" x="826.500">001ECF6C</tspan><tspan class="m" x="889">ADD</tspan><tspan x="969">R1, R2, R6<tspan class="o">LSL</tspan><tspan class="n">2</tspan></tspan></text>
<text class="t" y="899"><tspan class="a" x="826.500">001ECF70</tspan><tspan class="m" x="889">LDR</tspan><tspan x="969">R8, <tspan class="b">[</tspan>R2<tspan class="p">,</tspan>R6<tspan class="o">LSL</tspan><tspan class="n">2</tspan><tspan class="b">]</tspan></tspan></text>
<text class="t" y="922"><tspan class="a" x="826.500">001ECF74</tspan><tspan class="m" x="889">LDR</tspan><tspan x="969">R0, <tspan class="b">[</tspan>R1<tspan class="p">,</tspan><tspan class="n">0x1C</tspan><tspan class="b">]</tspan></tspan></text>
<text class="t" y="934"><tspan class="a" x="826.500">001ECF78</tspan><tspan class="m" x="889">LDR</tspan><tspan x="969">R6, <tspan class="b">[</tspan>R1<tspan class="p">,</tspan><tspan class="n">0x38</tspan><tspan class="b">]</tspan></tspan></text>
<text class="t" y="946"><tspan class="a" x="826.500">001ECF7C</tspan><tspan class="m" x="889">STR</tspan><tspan x="969">R8, <tspan class="b">[</tspan>R3<tspan class="p">,</tspan>R7<tspan class="b">]</tspan></tspan></text>
<text class="t" y="982"><tspan class="a" x="826.500">001ECF80</tspan><tspan class="m" x="889">STR</tspan><tspan x="969">R0, <tspan class="b">[</tspan>R3<tspan class="p">,</tspan>R5<tspan class="b">]</tspan></tspan></text>
<text class="t" y="994"><tspan class="a" x="826.500">001ECF84</tspan><tspan class="m" x="889">STR</tspan><tspan x="969">R6, <tspan class="b">[</tspan>R3<tspan class="p">,</tspan>R4<tspan class="b">]</tspan></tspan></text>
<text class="t" y="1006"><tspan class="a" x="826.500">001ECF88</tspan><tspan class="m" x="889">LDMFD</tspan><tspan x="969"><tspan class="p">!</tspan>SP, <tspan class="o">{</tspan>R4<tspan class="p">,</tspan>R5<tspan class="p">,</tspan>R6<tspan class="p">,</tspan>R7<tspan class="p">,</tspan>R8<tspan class="o">}</tspan></tspan></text>
<text class="t" y="1017"><tspan class="a" x="826.500">001ECF8C</tspan><tspan class="m" x="889">BX</tspan><tspan x="969">LR</tspan></text>
</g>

<g id="window-bottom">
<rect x="0" y="1032" width="1560" height="8" fill="#dca361"/>
<rect x="0" y="1030.500" width="1560" height="1" fill="#a8a8a8"/>
<text x="1333" y="1041" font-size="31" fill="#3a3a3a" fill-opacity=".85">BiteYourConsole</text>
</g>
</svg>
